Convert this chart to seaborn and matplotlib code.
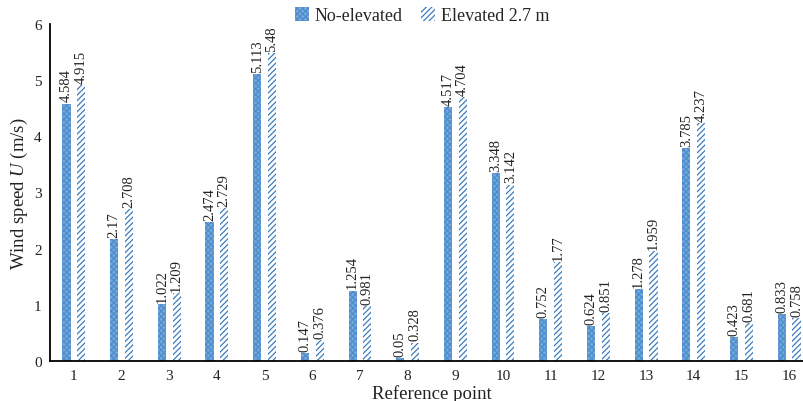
import matplotlib
matplotlib.use("Agg")
import matplotlib.pyplot as plt
import seaborn as sns
import pandas as pd
from matplotlib.patches import Patch

points = [str(i) for i in range(1, 17)]
no_elevated = [4.584, 2.17, 1.022, 2.474, 5.113, 0.147, 1.254, 0.05, 4.517, 3.348, 0.752, 0.624, 1.278, 3.785, 0.423, 0.833]
elevated = [4.915, 2.708, 1.209, 2.729, 5.48, 0.376, 0.981, 0.328, 4.704, 3.142, 1.77, 0.851, 1.959, 4.237, 0.681, 0.758]
series = ["No-elevated", "Elevated 2.7 m"]
label_no = ["4.584", "2.17", "1.022", "2.474", "5.113", "0.147", "1.254", "0.05", "4.517", "3.348", "0.752", "0.624", "1.278", "3.785", "0.423", "0.833"]
label_el = ["4.915", "2.708", "1.209", "2.729", "5.48", "0.376", "0.981", "0.328", "4.704", "3.142", "1.77", "0.851", "1.959", "4.237", "0.681", "0.758"]

df = pd.DataFrame({
    "point": points * 2,
    "value": no_elevated + elevated,
    "series": [series[0]] * 16 + [series[1]] * 16,
})

sns.set_theme(style="white")
plt.rcParams["font.family"] = ["Liberation Serif", "DejaVu Serif"]
plt.rcParams["mathtext.fontset"] = "custom"
plt.rcParams["mathtext.it"] = "Liberation Serif:italic"
plt.rcParams["mathtext.rm"] = "Liberation Serif"
plt.rcParams["hatch.linewidth"] = 0.9

fig = plt.figure(figsize=(8.04, 4.02), dpi=100)
ax = fig.add_axes([50 / 804, 40 / 402, 763 / 804, 337 / 402])

sns.barplot(data=df, x="point", y="value", hue="series", order=points, hue_order=series,
            width=0.62, gap=0.45, ax=ax, legend=False, errorbar=None,
            palette=["#6FA6DA", "white"])

styles = [dict(facecolor="#74A9DC", edgecolor="#4F8CCB", hatch="xxxxxx"),
          dict(facecolor="white", edgecolor="#3C7CC0", hatch="//////")]
for cont, st, labs in zip(ax.containers, styles, [label_no, label_el]):
    for bar in cont:
        bar.set_facecolor(st["facecolor"])
        bar.set_edgecolor(st["edgecolor"])
        bar.set_hatch(st["hatch"])
        bar.set_linewidth(0)
    ax.bar_label(cont, labels=labs, rotation=90, padding=1.5, fontsize=10.5, color="#222222")

ax.set_xlim(-0.5, 15.5)
ax.set_ylim(0, 6)
ax.set_yticks(range(0, 7))
ax.minorticks_off()
ax.tick_params(axis="both", which="both", length=0, labelsize=11, colors="#222222", pad=6,
               bottom=False, left=False, top=False, right=False)
ax.grid(False)
for s in ["top", "right"]:
    ax.spines[s].set_visible(False)
for s in ["left", "bottom"]:
    ax.spines[s].set_color("black")
    ax.spines[s].set_linewidth(1.3)

ax.set_xlabel("Reference point", fontsize=13.5, labelpad=1, color="#222222")
ax.set_ylabel(r"Wind speed $\mathit{U}$ (m/s)", fontsize=13.5, labelpad=3, color="#222222")

handles = [Patch(facecolor=styles[0]["facecolor"], edgecolor=styles[0]["edgecolor"], hatch="xxxxxx", linewidth=0),
           Patch(facecolor="white", edgecolor=styles[1]["edgecolor"], hatch="//////", linewidth=0)]
fig.legend(handles, series, loc="upper center", bbox_to_anchor=(0.525, 1.02), ncol=2, frameon=False,
           fontsize=13, handlelength=0.8, handleheight=0.8, handletextpad=0.3, columnspacing=1.0)

fig.savefig("out.png", dpi=100)
